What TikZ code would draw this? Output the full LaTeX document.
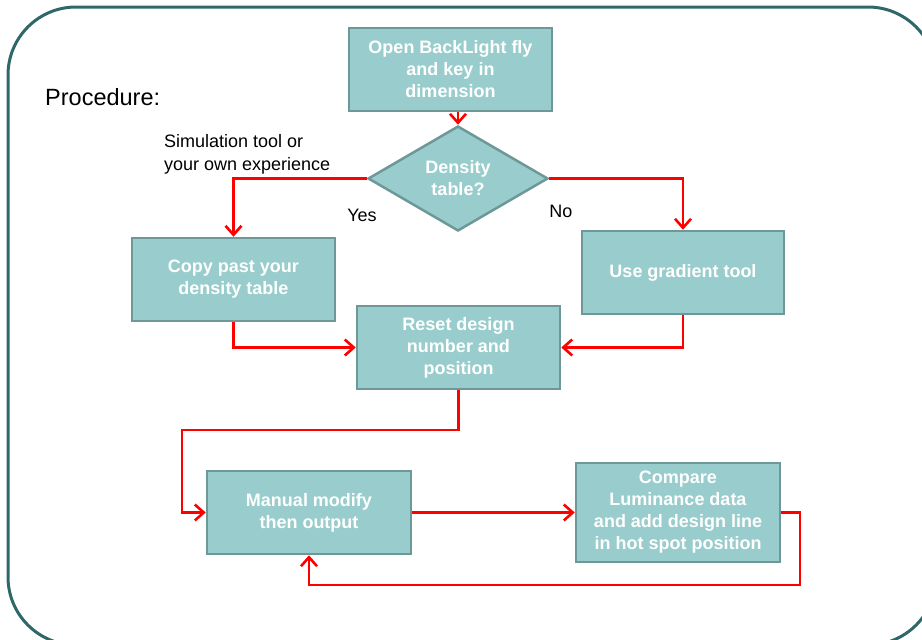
\documentclass[tikz,border=0pt]{standalone}
\usepackage{fontspec}
\setmainfont{Liberation Sans}
\usetikzlibrary{shapes.geometric,arrows.meta}
\definecolor{boxfill}{RGB}{153,204,204}
\definecolor{boxline}{RGB}{110,152,152}
\definecolor{frame}{RGB}{46,104,104}
\definecolor{flow}{RGB}{255,0,0}
\tikzset{
  stepbox/.style={rectangle, draw=boxline, fill=boxfill, line width=2.5pt,
    text=white, font=\fontsize{18}{22}\selectfont\bfseries, align=center, inner sep=2pt},
  decbox/.style={diamond, draw=boxline, fill=boxfill, line width=2.5pt,
    text=white, font=\fontsize{18}{22}\selectfont\bfseries, align=center,
    inner sep=0pt, shape aspect=1.714, minimum width=180pt, minimum height=105pt},
  flowline/.style={draw=flow, line width=2.6pt,
    -{Straight Barb[length=9pt,width=16pt,line width=2.6pt]}},
  note/.style={text=black, font=\fontsize{18}{23}\selectfont, align=left, inner sep=0pt}
}
\begin{document}
\begin{tikzpicture}[x=1pt,y=-1pt]
\useasboundingbox (0,0) rectangle (922,640);
\begin{scope}
\clip (0,0) rectangle (922,640);
% outer frame
\draw[frame, line width=3pt, rounded corners=68pt] (8,7) rectangle (936,645);

% steps
\node[stepbox, minimum width=203pt, minimum height=83pt] (open) at (450.5,69.5)
  {Open BackLight fly\\and key in\\dimension};
\node[decbox] (dec) at (458,178.5) {Density\\table?};
\node[stepbox, minimum width=203pt, minimum height=83pt] (copy) at (233.5,279.5)
  {Copy past your\\density table};
\node[stepbox, minimum width=202pt, minimum height=83pt] (grad) at (683,272.5)
  {Use gradient tool};
\node[stepbox, minimum width=203pt, minimum height=83pt] (reset) at (458.5,347.5)
  {Reset design\\number and\\position};
\node[stepbox, minimum width=204pt, minimum height=83pt] (manual) at (309,512.5)
  {Manual modify\\then output};
\node[stepbox, minimum width=204pt, minimum height=99pt] (comp) at (678,512.5)
  {Compare\\Luminance data\\and add design line\\in hot spot position};

% labels
\node[note, font=\fontsize{23.5}{28}\selectfont, anchor=west] (proc) at (45,97) {Procedure:};
\node[note, anchor=west] (sim) at (164,154) {Simulation tool or\\your own experience};
\node[note] (yes) at (362,215) {Yes};
\node[note] (no) at (561,211) {No};

% bend points
\coordinate (down) at (182,430);
\coordinate (loop) at (800,585);

% connectors
\draw[flowline] (open.south -| dec.north) -- (dec.north);
\draw[flowline] (dec.west) -| (copy.north);
\draw[flowline] (dec.east) -| (grad.north);
\draw[flowline] (copy.south) |- (reset.west);
\draw[flowline] (grad.south) |- (reset.east);
\draw[flowline] (reset.south) |- (down) |- (manual.west);
\draw[flowline] (manual.east) -- (comp.west);
\draw[flowline] (comp.east) -| (loop) -| (manual.south);
\end{scope}
\end{tikzpicture}
\end{document}
